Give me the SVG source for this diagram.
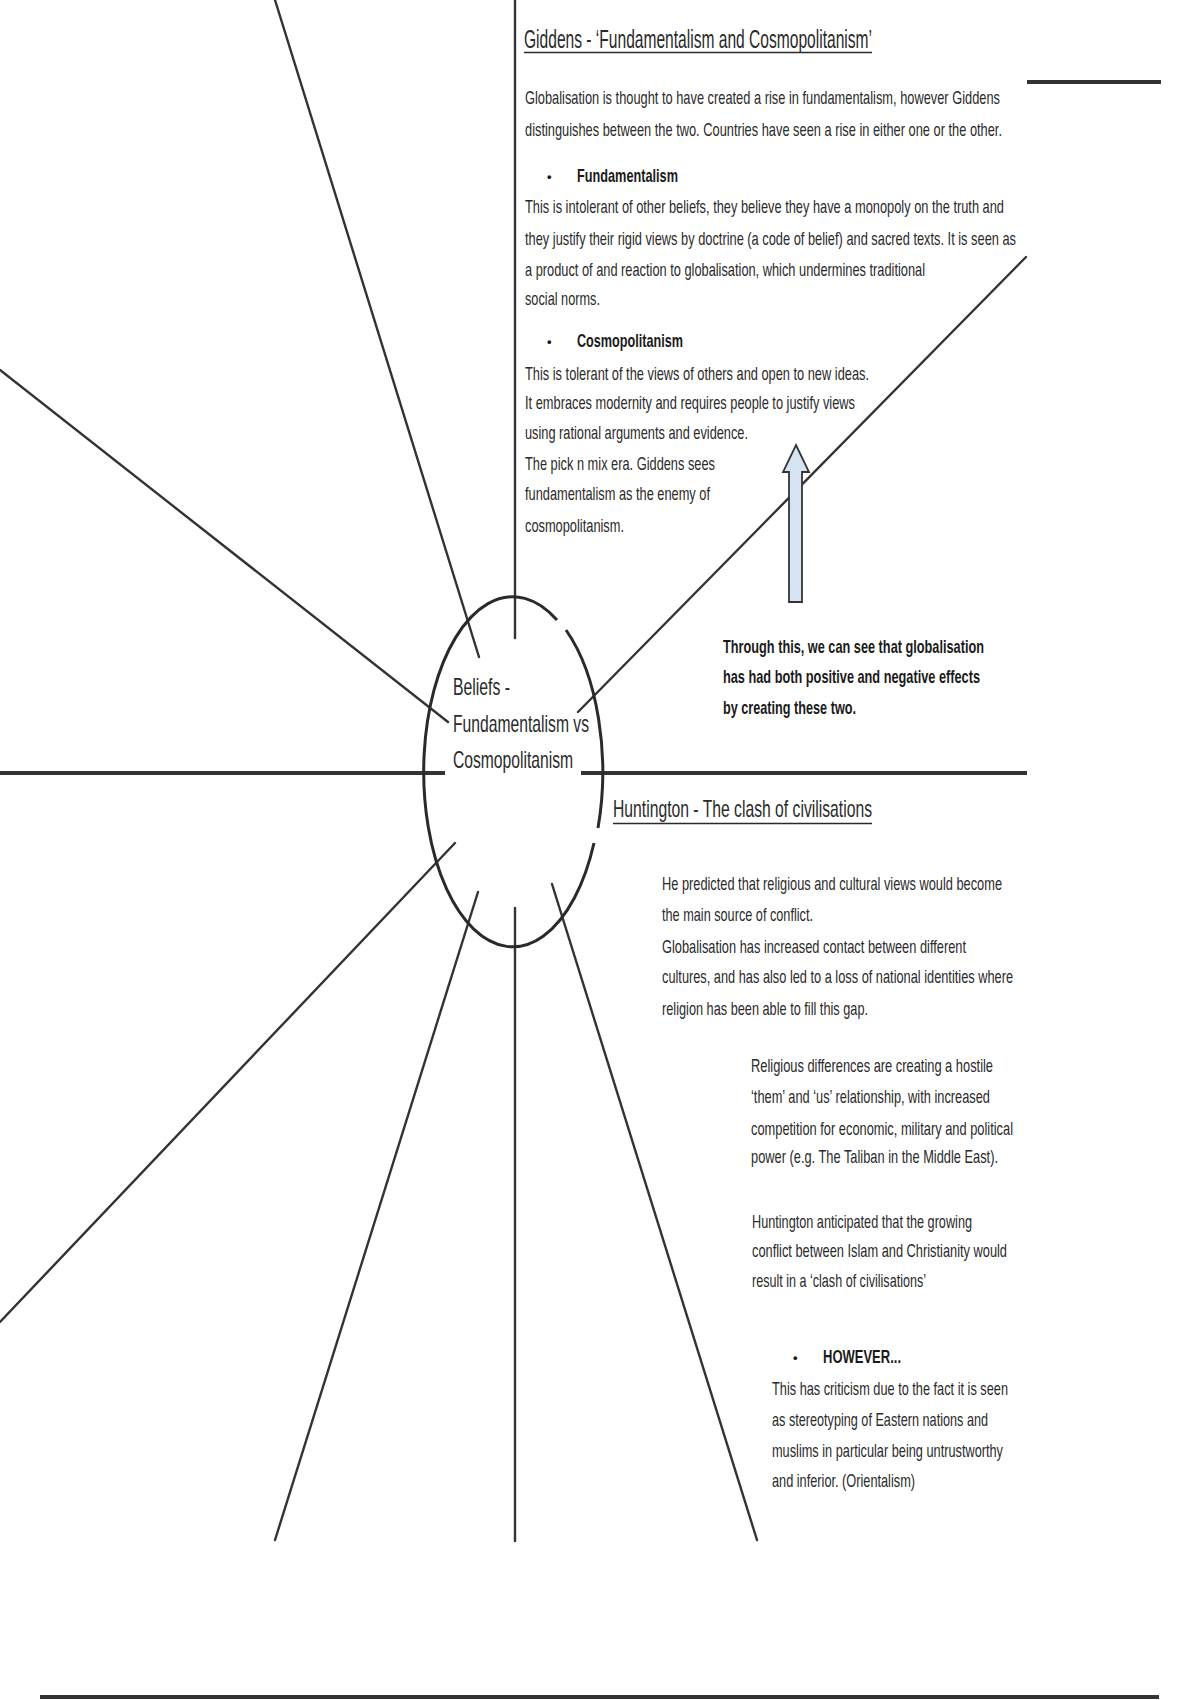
<svg xmlns="http://www.w3.org/2000/svg" width="1200" height="1700" viewBox="0 0 1200 1700">
<style>
.t{font-family:"Liberation Sans",Arial,sans-serif;font-size:19px;fill:#2a2a2a}
.b{font-weight:bold;fill:#1a1a1a}
.h{font-size:25px}
.c{font-size:24px}
.bu{font-size:13px}
.sp{stroke:#333;stroke-width:2.4;fill:none;stroke-linecap:round}
.thick{stroke:#333;stroke-width:4;fill:none}
.ul{stroke:#2a2a2a;stroke-width:1.6}
</style>
<rect width="1200" height="1700" fill="#ffffff"/>
<g id="connectors">
<line class="sp" x1="515" y1="0" x2="515" y2="638"/>
<line class="sp" x1="275" y1="0" x2="479" y2="657"/>
<line class="sp" x1="0" y1="370" x2="448" y2="722"/>
<line class="thick" x1="0" y1="773" x2="445" y2="773"/>
<line class="thick" x1="581" y1="773" x2="1027" y2="773"/>
<line class="sp" x1="1026" y1="257" x2="578" y2="712"/>
<line class="sp" x1="455" y1="843" x2="0" y2="1322"/>
<line class="sp" x1="478" y1="892" x2="275" y2="1540"/>
<line class="sp" x1="515" y1="908" x2="515" y2="1541"/>
<line class="sp" x1="552" y1="884" x2="757" y2="1540"/>
<line class="thick" x1="1027" y1="82" x2="1161" y2="82"/>
<line class="thick" x1="40" y1="1697" x2="1159" y2="1697"/>
</g>
<g id="center-node">
<path d="M 566 630 A 89 175 0 0 1 598 828" fill="none" stroke="#2a2a2a" stroke-width="3"/>
<path d="M 594 843 A 89 175 0 1 1 557 620" fill="none" stroke="#2a2a2a" stroke-width="3"/>
<text class="t c" x="453" y="695" textLength="57" lengthAdjust="spacingAndGlyphs">Beliefs -</text>
<text class="t c" x="453" y="732" textLength="136" lengthAdjust="spacingAndGlyphs">Fundamentalism vs</text>
<text class="t c" x="453" y="768" textLength="120" lengthAdjust="spacingAndGlyphs">Cosmopolitanism</text>
</g>
<g id="giddens">
<text class="t h" x="524" y="48" textLength="348" lengthAdjust="spacingAndGlyphs">Giddens - ‘Fundamentalism and Cosmopolitanism’</text>
<line class="ul" x1="524" y1="52.5" x2="872" y2="52.5"/>
<text class="t" x="525" y="104" textLength="475" lengthAdjust="spacingAndGlyphs">Globalisation is thought to have created a rise in fundamentalism, however Giddens</text>
<text class="t" x="525" y="136" textLength="477" lengthAdjust="spacingAndGlyphs">distinguishes between the two. Countries have seen a rise in either one or the other.</text>
<text class="t b bu" x="547" y="181">•</text>
<text class="t b" x="577" y="182" textLength="101" lengthAdjust="spacingAndGlyphs">Fundamentalism</text>
<text class="t" x="525" y="213" textLength="479" lengthAdjust="spacingAndGlyphs">This is intolerant of other beliefs, they believe they have a monopoly on the truth and</text>
<text class="t" x="525" y="245" textLength="491" lengthAdjust="spacingAndGlyphs">they justify their rigid views by doctrine (a code of belief) and sacred texts. It is seen as</text>
<text class="t" x="525" y="276" textLength="400" lengthAdjust="spacingAndGlyphs">a product of and reaction to globalisation, which undermines traditional</text>
<text class="t" x="525" y="305" textLength="75" lengthAdjust="spacingAndGlyphs">social norms.</text>
<text class="t b bu" x="547" y="346">•</text>
<text class="t b" x="577" y="347" textLength="106" lengthAdjust="spacingAndGlyphs">Cosmopolitanism</text>
<text class="t" x="525" y="380" textLength="344" lengthAdjust="spacingAndGlyphs">This is tolerant of the views of others and open to new ideas.</text>
<text class="t" x="525" y="409" textLength="330" lengthAdjust="spacingAndGlyphs">It embraces modernity and requires people to justify views</text>
<text class="t" x="525" y="439" textLength="223" lengthAdjust="spacingAndGlyphs">using rational arguments and evidence.</text>
<text class="t" x="525" y="470" textLength="190" lengthAdjust="spacingAndGlyphs">The pick n mix era. Giddens sees</text>
<text class="t" x="525" y="500" textLength="185" lengthAdjust="spacingAndGlyphs">fundamentalism as the enemy of</text>
<text class="t" x="525" y="532" textLength="99" lengthAdjust="spacingAndGlyphs">cosmopolitanism.</text>
</g>
<g id="arrow">
<polygon points="796,445 809,472 802,472 802,602 789,602 789,472 783,472" fill="#d5e3f3" stroke="#333" stroke-width="1.8" stroke-linejoin="miter"/>
</g>
<g id="conclusion">
<text class="t b" x="723" y="653" textLength="261" lengthAdjust="spacingAndGlyphs">Through this, we can see that globalisation</text>
<text class="t b" x="723" y="683" textLength="257" lengthAdjust="spacingAndGlyphs">has had both positive and negative effects</text>
<text class="t b" x="723" y="714" textLength="133" lengthAdjust="spacingAndGlyphs">by creating these two.</text>
</g>
<g id="huntington">
<text class="t c" x="613" y="817" textLength="259" lengthAdjust="spacingAndGlyphs">Huntington - The clash of civilisations</text>
<line class="ul" x1="613" y1="823.5" x2="872" y2="823.5"/>
<text class="t" x="662" y="890" textLength="340" lengthAdjust="spacingAndGlyphs">He predicted that religious and cultural views would become</text>
<text class="t" x="662" y="921" textLength="151" lengthAdjust="spacingAndGlyphs">the main source of conflict.</text>
<text class="t" x="662" y="953" textLength="304" lengthAdjust="spacingAndGlyphs">Globalisation has increased contact between different</text>
<text class="t" x="662" y="983" textLength="351" lengthAdjust="spacingAndGlyphs">cultures, and has also led to a loss of national identities where</text>
<text class="t" x="662" y="1015" textLength="206" lengthAdjust="spacingAndGlyphs">religion has been able to fill this gap.</text>
<text class="t" x="751" y="1072" textLength="242" lengthAdjust="spacingAndGlyphs">Religious differences are creating a hostile</text>
<text class="t" x="751" y="1103" textLength="239" lengthAdjust="spacingAndGlyphs">‘them’ and ‘us’ relationship, with increased</text>
<text class="t" x="751" y="1135" textLength="262" lengthAdjust="spacingAndGlyphs">competition for economic, military and political</text>
<text class="t" x="751" y="1163" textLength="247" lengthAdjust="spacingAndGlyphs">power (e.g. The Taliban in the Middle East).</text>
<text class="t" x="752" y="1228" textLength="220" lengthAdjust="spacingAndGlyphs">Huntington anticipated that the growing</text>
<text class="t" x="752" y="1257" textLength="255" lengthAdjust="spacingAndGlyphs">conflict between Islam and Christianity would</text>
<text class="t" x="752" y="1287" textLength="174" lengthAdjust="spacingAndGlyphs">result in a ‘clash of civilisations’</text>
<text class="t b bu" x="793" y="1362">•</text>
<text class="t b" x="823" y="1363" textLength="78" lengthAdjust="spacingAndGlyphs">HOWEVER...</text>
<text class="t" x="772" y="1395" textLength="236" lengthAdjust="spacingAndGlyphs">This has criticism due to the fact it is seen</text>
<text class="t" x="772" y="1426" textLength="216" lengthAdjust="spacingAndGlyphs">as stereotyping of Eastern nations and</text>
<text class="t" x="772" y="1457" textLength="231" lengthAdjust="spacingAndGlyphs">muslims in particular being untrustworthy</text>
<text class="t" x="772" y="1487" textLength="143" lengthAdjust="spacingAndGlyphs">and inferior. (Orientalism)</text>
</g>
</svg>
